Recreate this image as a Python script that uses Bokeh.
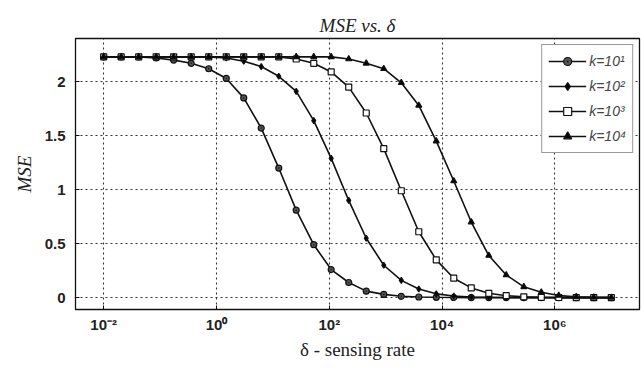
from bokeh.plotting import figure
from bokeh.models import FixedTicker, Legend, LegendItem, Range1d, Title
from bokeh.embed import file_html
from bokeh.resources import INLINE

# sensing rate grid (30 points, 1e-2 ... 1e7)
delta = [0.01, 0.0204, 0.0418, 0.0853, 0.174, 0.356, 0.728, 1.49, 3.04, 6.21,
         12.7, 25.9, 53.0, 108, 221, 452, 924, 1890, 3860, 7880,
         16100, 32900, 67300, 137000, 281000, 574000, 1170000, 2390000, 4890000, 10000000]

mse_k1 = [2.23, 2.23, 2.23, 2.22, 2.20, 2.17, 2.12, 2.03, 1.85, 1.57,
          1.20, 0.81, 0.49, 0.26, 0.14, 0.06, 0.03, 0.012, 0.006, 0.003,
          0.001, 0.0, 0.0, 0.0, 0.0, 0.0, 0.0, 0.0, 0.0, 0.0]
mse_k2 = [2.23, 2.23, 2.23, 2.23, 2.23, 2.23, 2.23, 2.22, 2.19, 2.14,
          2.05, 1.91, 1.64, 1.29, 0.90, 0.55, 0.30, 0.16, 0.08, 0.035,
          0.015, 0.006, 0.003, 0.001, 0.0, 0.0, 0.0, 0.0, 0.0, 0.0]
mse_k3 = [2.23, 2.23, 2.23, 2.23, 2.23, 2.23, 2.23, 2.23, 2.23, 2.23,
          2.23, 2.21, 2.17, 2.09, 1.95, 1.71, 1.38, 0.99, 0.61, 0.35,
          0.18, 0.09, 0.04, 0.018, 0.007, 0.003, 0.001, 0.0, 0.0, 0.0]
mse_k4 = [2.23, 2.23, 2.23, 2.23, 2.23, 2.23, 2.23, 2.23, 2.23, 2.23,
          2.23, 2.23, 2.23, 2.23, 2.21, 2.17, 2.12, 1.99, 1.78, 1.45,
          1.08, 0.70, 0.39, 0.21, 0.10, 0.05, 0.02, 0.007, 0.003, 0.001]

labels = ["k=10\u00b9", "k=10\u00b2", "k=10\u00b3", "k=10\u2074"]
x_ticks = [0.01, 1, 100, 10000, 1000000]
x_tick_labels = ["10\u207b\u00b2", "10\u2070", "10\u00b2", "10\u2074", "10\u2076"]
y_ticks = [0, 0.5, 1, 1.5, 2]
y_tick_labels = ["0", "0.5", "1", "1.5", "2"]

p = figure(width=641, height=369, x_axis_type="log",
           x_range=Range1d(10 ** -2.5, 10 ** 7.5), y_range=Range1d(-0.11, 2.40),
           output_backend="svg", toolbar_location=None,
           min_border_left=75, min_border_right=2, min_border_top=38, min_border_bottom=60,
           title="MSE vs. \u03b4")

p.title.align = "center"
p.title.text_font = "Liberation Serif"
p.title.text_font_style = "italic"
p.title.text_font_size = "19px"
p.title.text_color = "#222222"
p.title.standoff = 6

p.outline_line_color = "#111111"
p.outline_line_width = 1.3
p.background_fill_color = "white"

for ax in (p.xaxis[0], p.yaxis[0]):
    ax.axis_line_color = None
    ax.major_tick_in = 4
    ax.major_tick_out = 0
    ax.major_tick_line_color = "#111111"
    ax.minor_tick_line_color = None
    ax.major_label_text_font = "Liberation Sans"
    ax.major_label_text_font_style = "bold"
    ax.major_label_text_font_size = "15px"
    ax.major_label_text_color = "#222222"

p.xaxis.ticker = FixedTicker(ticks=x_ticks)
p.xaxis.major_label_overrides = dict(zip(x_ticks, x_tick_labels))
p.xaxis.major_label_standoff = 6

p.yaxis.ticker = FixedTicker(ticks=y_ticks)
p.yaxis.major_label_overrides = dict(zip(y_ticks, y_tick_labels))
p.yaxis.major_label_standoff = 10

xlab = Title(text="\u03b4 - sensing rate", align="center", text_font="Liberation Serif",
             text_font_style="normal", text_font_size="19px", text_color="#222222",
             standoff=2, offset=0)
p.add_layout(xlab, "below")
ylab = Title(text="MSE", align="center", text_font="Liberation Serif",
             text_font_style="italic", text_font_size="19px", text_color="#222222",
             standoff=14)
p.add_layout(ylab, "left")

p.grid.grid_line_color = "#111111"
p.grid.grid_line_dash = "2 3"
p.grid.grid_line_width = 1.1
p.grid.grid_line_alpha = 0.85

series = [mse_k1, mse_k2, mse_k3, mse_k4]
markers = ["circle_dot", "diamond", "square", "triangle"]
fills = ["#555555", "black", "white", "black"]
sizes = [6, 6, 6, 6]

items = []
for vals, mk, fc, sz, lab in zip(series, markers, fills, sizes, labels):
    r_line = p.line(delta, vals, line_color="#111111", line_width=1.6)
    r_mk = p.scatter(delta, vals, marker=mk, size=sz, line_color="#111111",
                     fill_color=fc, line_width=1.2)
    items.append(LegendItem(label=lab, renderers=[r_line, r_mk]))

legend = Legend(items=items, location="top_right")
legend.margin = 6
legend.padding = 6
legend.spacing = 5
legend.glyph_width = 38
legend.glyph_height = 20
legend.label_height = 20
legend.label_standoff = 3
legend.label_text_font = "Liberation Sans"
legend.label_text_font_style = "italic"
legend.label_text_font_size = "14px"
legend.label_text_color = "#444444"
legend.border_line_color = "#333333"
legend.border_line_width = 1.3
legend.background_fill_alpha = 1.0
p.add_layout(legend)

open("out.html", "w").write(file_html(p, INLINE))
